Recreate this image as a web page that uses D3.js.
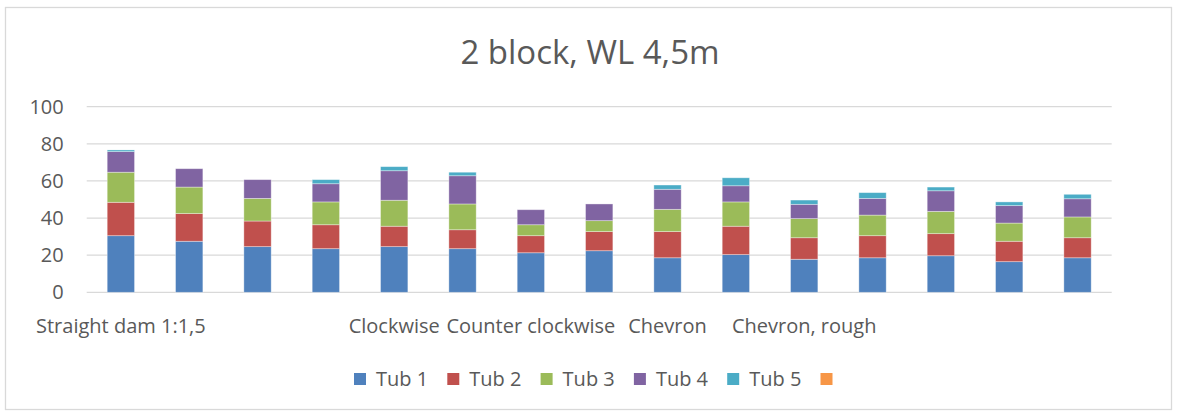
<!DOCTYPE html>
<html>
<head>
<meta charset="utf-8">
<script src="https://cdn.jsdelivr.net/npm/d3@7"></script>
<style>
  body { margin: 0; background: #fff; }
  svg text { font-family: "Open Sans", Lato, sans-serif; fill: #595959; }
</style>
</head>
<body>
<div id="chart"></div>
<script>
(function() {

// category labels (Excel only shows some of them)
var categories = ['Straight dam 1:1,5', '', '', '', 'Clockwise', '', 'Counter clockwise', '',
                  'Chevron', '', 'Chevron, rough', '', '', '', ''];

var seriesNames = ['Tub 1', 'Tub 2', 'Tub 3', 'Tub 4', 'Tub 5', ''];

var tub1 = [30.5, 27.5, 24.6, 23.5, 24.6, 23.5, 21.3, 22.4, 18.6, 20.3, 17.8, 18.6, 19.7, 16.5, 18.6];
var tub2 = [18.0, 14.9, 13.8, 12.9, 11.0, 10.2, 9.2, 10.3, 14.1, 15.3, 11.6, 11.9, 11.9, 11.0, 10.8];
var tub3 = [16.2, 14.3, 12.2, 12.3, 14.0, 13.9, 5.9, 5.9, 12.0, 13.1, 10.3, 11.1, 12.0, 9.8, 11.2];
var tub4 = [11.1, 9.9, 10.1, 9.8, 15.9, 15.2, 8.1, 9.0, 10.8, 8.7, 7.7, 9.0, 11.1, 9.4, 9.8];
var tub5 = [0.9, 0, 0, 2.2, 2.2, 1.9, 0, 0, 2.3, 4.3, 2.3, 3.1, 2.0, 2.0, 2.4];
var tub6 = [0, 0, 0, 0, 0, 0, 0, 0, 0, 0, 0, 0, 0, 0, 0];

var yTicks = [0, 20, 40, 60, 80, 100];

var colors = ['#4f81bd', '#c0504d', '#9bbb59', '#8064a2', '#4bacc6', '#f79646'];

// build rows for d3.stack
var keys = ['s0', 's1', 's2', 's3', 's4', 's5'];
var allSeries = [tub1, tub2, tub3, tub4, tub5, tub6];
var rows = categories.map(function(c, i) {
  var r = { idx: i, label: c };
  keys.forEach(function(k, j) { r[k] = allSeries[j][i]; });
  return r;
});

var W = 1177, H = 415;
var plot = { left: 86.7, right: 1111.7, top: 106.7, bottom: 292.3 };

var svg = d3.select('#chart').append('svg')
    .attr('width', W)
    .attr('height', H);

// chart area border
svg.append('rect')
    .attr('x', 5.5).attr('y', 7.5)
    .attr('width', 1166).attr('height', 402)
    .attr('fill', '#fff')
    .attr('stroke', '#d9d9d9')
    .attr('stroke-width', 1.3);

var x = d3.scaleBand()
    .domain(rows.map(function(d) { return d.idx; }))
    .range([plot.left, plot.right])
    .paddingInner(0.6)
    .paddingOuter(0.3);

var y = d3.scaleLinear()
    .domain([0, 100])
    .range([plot.bottom, plot.top]);

// gridlines
svg.append('g')
    .selectAll('line')
    .data(yTicks)
    .enter().append('line')
    .attr('x1', plot.left)
    .attr('x2', plot.right)
    .attr('y1', function(d) { return y(d); })
    .attr('y2', function(d) { return y(d); })
    .attr('stroke', '#d9d9d9')
    .attr('stroke-width', 1.3);

// y axis labels
var yAxis = svg.append('g')
    .attr('transform', 'translate(' + plot.left + ',0)')
    .call(d3.axisLeft(y).tickValues(yTicks).tickSize(0).tickPadding(23));
yAxis.select('.domain').remove();
yAxis.selectAll('text')
    .style('font-size', '20px')
    .attr('fill', '#595959');

// stacked bars
var stacked = d3.stack().keys(keys)(rows);

svg.append('g')
    .selectAll('g')
    .data(stacked)
    .enter().append('g')
    .attr('fill', function(d, i) { return colors[i]; })
    .selectAll('rect')
    .data(function(d) { return d; })
    .enter().append('rect')
    .attr('x', function(d) { return x(d.data.idx); })
    .attr('y', function(d) { return y(d[1]); })
    .attr('width', x.bandwidth())
    .attr('height', function(d) { return Math.max(0, y(d[0]) - y(d[1])); })
    .attr('stroke', function(d) { return (d[1] - d[0]) > 0 ? 'rgba(255,255,255,0.45)' : 'none'; })
    .attr('stroke-width', 0.8);

// x axis labels
var xAxis = svg.append('g')
    .attr('transform', 'translate(0,' + plot.bottom + ')')
    .call(d3.axisBottom(x).tickSize(0).tickPadding(27)
      .tickFormat(function(i) { return categories[i]; }));
xAxis.select('.domain').remove();
xAxis.selectAll('text')
    .style('font-size', '20px')
    .attr('fill', '#595959');

// title
svg.append('text')
    .attr('x', 590)
    .attr('y', 64)
    .attr('text-anchor', 'middle')
    .style('font-size', '33px')
    .text('2 block, WL 4,5m');

// legend
var legend = svg.append('g')
    .attr('transform', 'translate(354,373)');

var item = legend.selectAll('g')
    .data(seriesNames)
    .enter().append('g')
    .attr('transform', function(d, i) { return 'translate(' + (i * 93.3) + ',0)'; });

item.append('rect')
    .attr('width', 12)
    .attr('height', 12)
    .attr('fill', function(d, i) { return colors[i]; });

item.append('text')
    .attr('x', 22)
    .attr('y', 13)
    .style('font-size', '20px')
    .text(function(d) { return d; });

})();
</script>
</body>
</html>
